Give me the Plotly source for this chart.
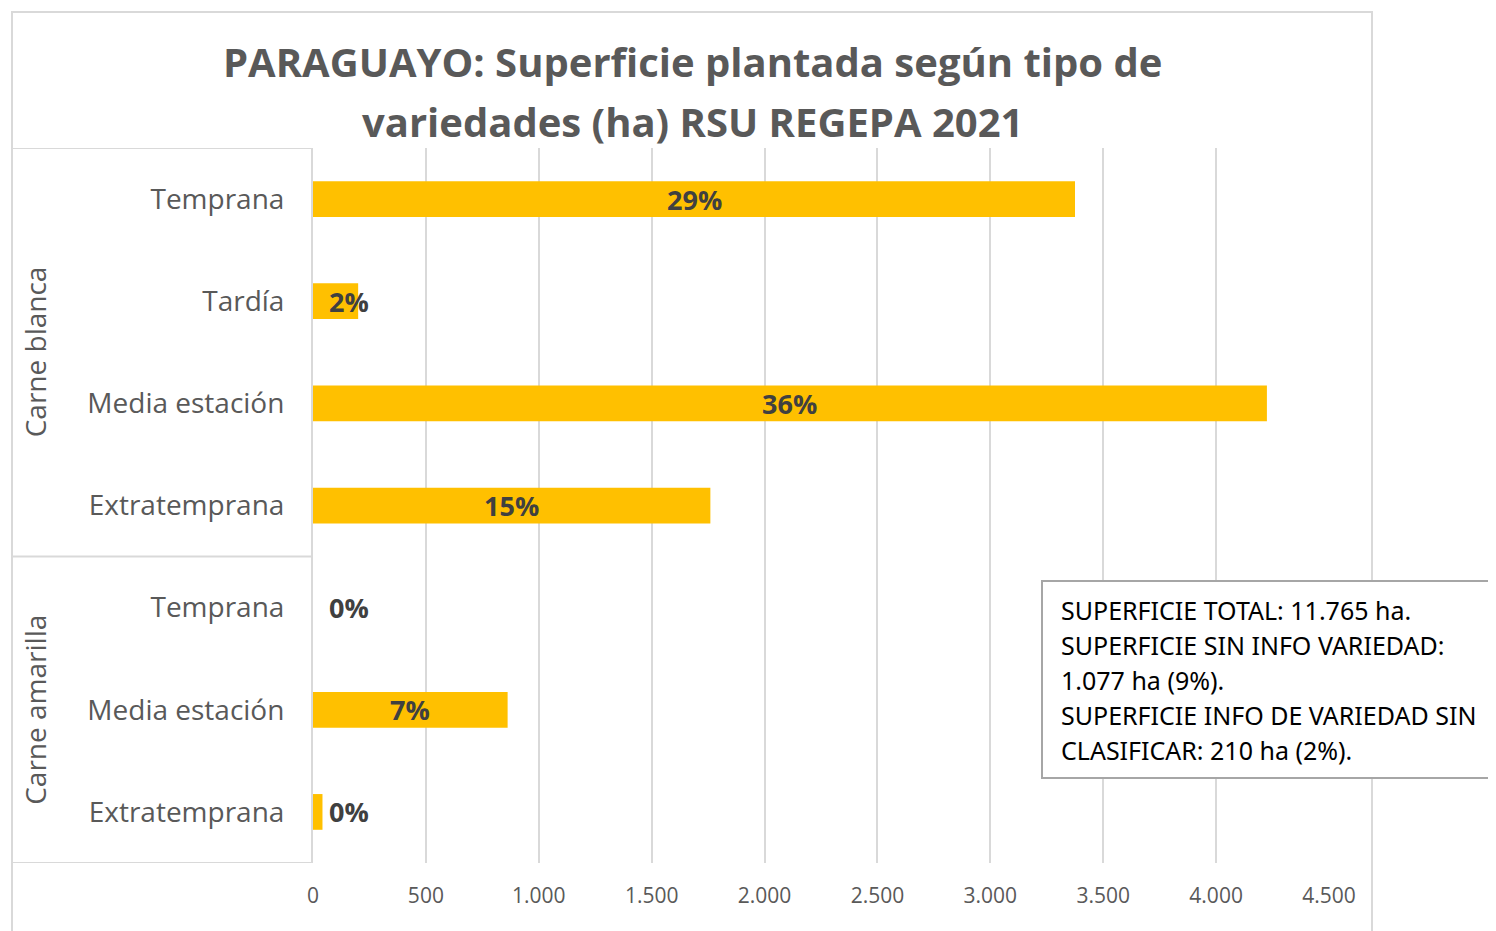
import plotly.graph_objects as go

# ---- data ----
groups = ["Carne blanca", "Carne blanca", "Carne blanca", "Carne blanca",
          "Carne amarilla", "Carne amarilla", "Carne amarilla"]
varieties = ["Temprana", "Tardía", "Media estación", "Extratemprana",
             "Temprana", "Media estación", "Extratemprana"]
hectares = [3375, 200, 4225, 1760, 0, 862, 42]
pct_labels = ["29%", "2%", "36%", "15%", "0%", "7%", "0%"]
x_ticks = [0, 500, 1000, 1500, 2000, 2500, 3000, 3500, 4000, 4500]
title_lines = ["PARAGUAYO: Superficie plantada según tipo de",
               "variedades (ha) RSU REGEPA 2021"]
note_lines = ["SUPERFICIE TOTAL: 11.765 ha.",
              "SUPERFICIE SIN INFO VARIEDAD:",
              "1.077 ha (9%).",
              "SUPERFICIE INFO DE VARIEDAD SIN",
              "CLASIFICAR: 210 ha (2%)."]

# ---- layout geometry (page pixels) ----
OFF = 8  # default body margin of the html page
W, H = 1496 - OFF, 931 - OFF
L, R, T, B = 313, 1329, 148, 863
XMAX = 4500
pw, ph = R - L, B - T


def px(x):
    return (x - L) / pw


def py(y):
    return (B - y) / ph


GRID = "#d9d9d9"
BAR = "#FFC000"
TXT = "#595959"
FONT = "Open Sans"

idx = list(range(len(varieties)))

fig = go.Figure()
fig.add_trace(go.Bar(
    x=hectares, y=idx, orientation="h", marker=dict(color=BAR, line=dict(width=0)),
    width=0.35, hoverinfo="x+y", showlegend=False,
))

annotations = []
# data labels
unit_px = pw / XMAX
for i, (v, lab) in enumerate(zip(hectares, pct_labels)):
    if v * unit_px > 90:
        annotations.append(dict(x=v / 2, y=i, xref="x", yref="y", text=f"<b>{lab}</b>",
                                showarrow=False, xanchor="center", yanchor="middle",
                                font=dict(family=FONT, size=27, color="#404040")))
    else:
        annotations.append(dict(x=0, y=i, xref="x", yref="y", text=f"<b>{lab}</b>",
                                showarrow=False, xanchor="left", yanchor="middle", xshift=14,
                                font=dict(family=FONT, size=27, color="#404040")))

# group labels
group_names = []
for g in groups:
    if g not in group_names:
        group_names.append(g)
for g in group_names:
    ids = [i for i, gg in enumerate(groups) if gg == g]
    annotations.append(dict(x=px(35), y=(ids[0] + ids[-1]) / 2, xref="paper", yref="y",
                            text=g, textangle=-90, showarrow=False,
                            xanchor="center", yanchor="middle",
                            font=dict(family=FONT, size=28, color=TXT)))

# title
for k, line in enumerate(title_lines):
    annotations.append(dict(x=px(692), y=py(62 + 59 * k), xref="paper", yref="paper",
                            text=f"<b>{line}</b>", showarrow=False,
                            xanchor="center", yanchor="middle",
                            font=dict(family=FONT, size=40, color=TXT)))

# note box text
for k, line in enumerate(note_lines):
    annotations.append(dict(x=px(1059), y=py(610 + 35 * k), xref="paper", yref="paper",
                            text=line, showarrow=False, xanchor="left", yanchor="middle",
                            font=dict(family="Noto Sans", size=25, color="#000000")))

shapes = []
# outer chart border
shapes.append(dict(type="rect", xref="paper", yref="paper",
                   x0=px(12), x1=px(1372), y0=py(12), y1=py(940),
                   line=dict(color=GRID, width=2), fillcolor="rgba(0,0,0,0)", layer="below"))
# category frame lines
boundaries = [-0.5] + [i + 0.5 for i in range(len(groups) - 1) if groups[i] != groups[i + 1]] + [len(groups) - 0.5]
for b in boundaries:
    shapes.append(dict(type="line", xref="paper", yref="y", x0=px(12), x1=0, y0=b, y1=b,
                       line=dict(color=GRID, width=2)))
# note box
shapes.append(dict(type="rect", xref="paper", yref="paper",
                   x0=px(1042), x1=px(1500), y0=py(581), y1=py(778),
                   line=dict(color="#a6a6a6", width=2), fillcolor="white", layer="above"))

fig.update_layout(
    width=W, height=H,
    margin=dict(l=L - OFF, r=W - (R - OFF), t=T - OFF, b=H - (B - OFF), pad=0),
    paper_bgcolor="white", plot_bgcolor="white",
    separators=",.",
    annotations=annotations,
    shapes=shapes,
    xaxis=dict(range=[0, XMAX], tickvals=x_ticks, tickformat=",d",
               showgrid=True, gridcolor=GRID, gridwidth=2, zeroline=False,
               showline=False, ticks="", ticklabelstandoff=18,
               tickfont=dict(family=FONT, size=21, color=TXT), fixedrange=True),
    yaxis=dict(range=[len(varieties) - 0.5, -0.5], tickvals=idx, ticktext=varieties,
               showgrid=False, zeroline=False, showline=True, linecolor=GRID, linewidth=2,
               ticks="", ticklabelstandoff=21,
               tickfont=dict(family=FONT, size=28, color=TXT), fixedrange=True),
)

fig.write_html("out.html")
